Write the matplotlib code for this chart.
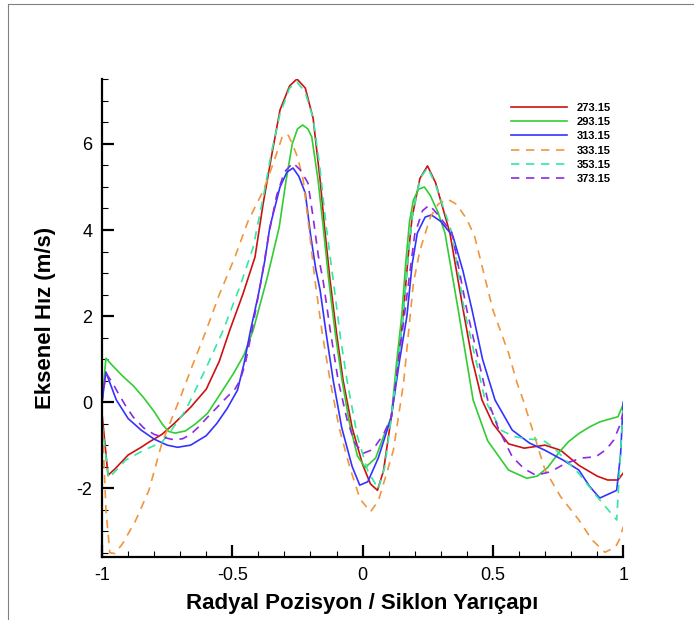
import numpy as np
import matplotlib.pyplot as plt
from matplotlib.lines import Line2D

plt.rcParams['font.family'] = ['Liberation Sans', 'DejaVu Sans']
plt.rcParams['axes.unicode_minus'] = False

# axial velocity profiles vs. normalised radial position, one per temperature
labels = ['273.15', '293.15', '313.15', '333.15', '353.15', '373.15']

x_273 = [-1.0, -0.985, -0.977, -0.95, -0.90, -0.85, -0.82, -0.77, -0.72, -0.66, -0.60, -0.55, -0.51, -0.46,
         -0.413, -0.382, -0.35, -0.317, -0.28, -0.252, -0.22, -0.19, -0.163, -0.145, -0.125, -0.10, -0.075,
         -0.04, 0.0, 0.03, 0.057, 0.08, 0.11, 0.135, 0.155, 0.175, 0.19, 0.22, 0.249, 0.28, 0.335, 0.386, 0.42,
         0.458, 0.50, 0.56, 0.62, 0.70, 0.76, 0.83, 0.90, 0.94, 0.98, 1.0]
y_273 = [-0.26, -1.2, -1.70, -1.55, -1.23, -1.05, -0.93, -0.75, -0.48, -0.12, 0.30, 0.95, 1.67, 2.50,
         3.37, 4.60, 5.70, 6.79, 7.35, 7.51, 7.30, 6.60, 5.16, 4.00, 2.84, 1.60, 0.51,
         -0.60, -1.45, -1.90, -2.05, -1.60, -0.35, 0.90, 2.00, 3.40, 4.30, 5.20, 5.49, 5.10, 3.93, 2.14, 1.00,
         0.05, -0.50, -0.97, -1.07, -1.00, -1.12, -1.47, -1.72, -1.81, -1.81, -1.65]

x_293 = [-1.0, -0.985, -0.96, -0.92, -0.88, -0.84, -0.80, -0.77, -0.745, -0.72, -0.68, -0.64, -0.595,
         -0.545, -0.495, -0.455, -0.42, -0.37,
         -0.35, -0.32, -0.295, -0.27, -0.25, -0.23, -0.21, -0.195, -0.171, -0.15, -0.13, -0.105, -0.079,
         -0.05, -0.02, 0.01, 0.05, 0.08, 0.11, 0.13, 0.15, 0.165, 0.18, 0.195, 0.215, 0.237, 0.26, 0.29,
         0.316, 0.367, 0.424, 0.48, 0.56, 0.63, 0.67, 0.71, 0.755, 0.79, 0.83, 0.87, 0.91, 0.95, 0.98, 1.0]
y_293 = [0.0, 1.02, 0.85, 0.60, 0.38, 0.10, -0.22, -0.50, -0.68, -0.72, -0.67, -0.50, -0.26,
         0.20, 0.67, 1.10, 1.67, 2.80,
         3.30, 4.07, 5.10, 6.00, 6.35, 6.44, 6.35, 6.16, 5.16, 4.00, 2.84, 1.60, 0.51,
         -0.50, -1.25, -1.52, -1.30, -0.80, -0.35, 0.90, 2.00, 3.20, 4.20, 4.70, 4.95, 5.00, 4.80, 4.40,
         3.93, 2.14, 0.05, -0.90, -1.58, -1.77, -1.72, -1.52, -1.16, -0.92, -0.73, -0.58, -0.46, -0.39, -0.34, -0.05]

x_313 = [-1.0, -0.985, -0.97, -0.945, -0.90, -0.85, -0.80, -0.75, -0.71, -0.66, -0.60, -0.56, -0.52,
         -0.48, -0.455, -0.43, -0.40,
         -0.375, -0.356, -0.317, -0.29, -0.267, -0.245, -0.22, -0.20, -0.18, -0.163, -0.14, -0.113,
         -0.08, -0.04, -0.011, 0.02, 0.06, 0.11, 0.14, 0.17, 0.19, 0.21, 0.24, 0.264, 0.30, 0.347, 0.385,
         0.42, 0.46, 0.508, 0.574, 0.64, 0.70, 0.77, 0.83, 0.87, 0.91, 0.95, 0.975, 0.99, 1.0]
y_313 = [0.0, 0.70, 0.45, 0.05, -0.38, -0.65, -0.86, -1.00, -1.05, -1.00, -0.78, -0.50, -0.15,
         0.28, 0.90, 1.67, 2.50,
         3.30, 4.07, 5.00, 5.35, 5.44, 5.25, 4.86, 3.90, 3.10, 2.60, 1.60, 0.51,
         -0.60, -1.50, -1.93, -1.85, -1.30, -0.35, 0.90, 2.00, 3.20, 3.93, 4.30, 4.35, 4.20, 3.85, 3.05,
         2.14, 1.00, 0.05, -0.65, -0.95, -1.12, -1.35, -1.58, -1.95, -2.23, -2.12, -2.05, -1.20, 0.0]

x_333 = [-1.0, -0.985, -0.97, -0.95, -0.92, -0.87, -0.82, -0.77, -0.75, -0.70, -0.65, -0.60, -0.55,
         -0.49, -0.44, -0.38, -0.34, -0.306, -0.285, -0.27, -0.25, -0.228, -0.205, -0.183, -0.155,
         -0.125, -0.09, -0.05, -0.01, 0.03, 0.06, 0.09, 0.118, 0.157, 0.195, 0.22, 0.26, 0.29, 0.325,
         0.36, 0.40, 0.43, 0.50, 0.56, 0.593, 0.616, 0.66, 0.70, 0.76, 0.83, 0.88, 0.93, 0.97, 0.985, 1.0]
y_333 = [-0.30, -2.50, -3.50, -3.52, -3.28, -2.74, -2.05, -0.95, -0.65, 0.10, 0.90, 1.67, 2.50,
         3.37, 4.20, 4.93, 5.60, 6.21, 6.20, 6.00, 5.70, 5.16, 4.00, 2.84, 1.60,
         0.51, -0.60, -1.50, -2.25, -2.55, -2.30, -1.70, -1.12, 0.44, 2.77, 3.53, 4.30, 4.60, 4.72,
         4.60, 4.25, 3.85, 2.14, 1.14, 0.44, 0.05, -0.80, -1.58, -2.20, -2.74, -3.20, -3.49, -3.37, -3.20, -2.90]

x_353 = [-1.0, -0.975, -0.94, -0.91, -0.84, -0.77, -0.74, -0.68, -0.60, -0.535, -0.47, -0.42, -0.38,
         -0.35, -0.317, -0.28, -0.252, -0.22, -0.19, -0.165, -0.14, -0.113, -0.085, -0.06, -0.02, 0.02,
         0.06, 0.085, 0.11, 0.135, 0.155, 0.175, 0.19, 0.22, 0.25, 0.28, 0.343, 0.39, 0.47, 0.53, 0.58, 0.64,
         0.69, 0.73, 0.78, 0.83, 0.90, 0.975, 1.0]
y_353 = [-0.50, -1.77, -1.55, -1.35, -1.12, -0.93, -0.70, -0.20, 0.80, 1.67, 2.70, 3.60, 4.80,
         5.80, 6.70, 7.30, 7.44, 7.20, 6.60, 5.50, 4.10, 2.84, 1.50, 0.51, -0.80, -1.60,
         -2.02, -1.50, -0.35, 0.90, 2.00, 3.40, 4.30, 5.20, 5.45, 5.05, 3.93, 2.14, 0.05, -0.65, -0.80, -0.86,
         -0.88, -1.04, -1.35, -1.66, -2.20, -2.74, -0.10]

x_373 = [-1.0, -0.985, -0.96, -0.94, -0.91, -0.88, -0.84, -0.80, -0.75, -0.72, -0.69, -0.66, -0.63,
         -0.595, -0.555, -0.52, -0.49, -0.47, -0.45, -0.43, -0.39,
         -0.36, -0.33, -0.30, -0.267, -0.24, -0.21, -0.19, -0.17, -0.152, -0.125, -0.094, -0.06, -0.03,
         0.002, 0.04, 0.08, 0.11, 0.13, 0.16, 0.20, 0.23, 0.256, 0.29, 0.343, 0.40, 0.48, 0.52, 0.574,
         0.62, 0.665, 0.72, 0.78, 0.84, 0.895, 0.935, 0.964, 0.985, 1.0]
y_373 = [0.0, 0.68, 0.45, 0.23, -0.08, -0.35, -0.60, -0.75, -0.84, -0.88, -0.85, -0.75, -0.58,
         -0.35, -0.10, 0.12, 0.30, 0.51, 0.90, 1.50, 2.80,
         3.90, 4.80, 5.35, 5.56, 5.40, 5.10, 4.30, 3.40, 2.84, 1.70, 0.51, -0.40, -0.95,
         -1.19, -1.10, -0.75, -0.35, 0.60, 2.00, 3.90, 4.45, 4.58, 4.35, 3.93, 2.14, 0.05, -0.60, -1.27,
         -1.55, -1.70, -1.62, -1.42, -1.30, -1.27, -1.10, -0.88, -0.57, -0.25]

xs = [x_273, x_293, x_313, x_333, x_353, x_373]
ys = [y_273, y_293, y_313, y_333, y_353, y_373]
colors = ['#cc1111', '#33cc33', '#3333ff', '#f0963c', '#33e8a0', '#8a2be2']
styles = ['-', '-', '-', '--', '--', '--']

fig = plt.figure(figsize=(6.94, 6.2), dpi=100)
ax = fig.add_axes([0.147, 0.1016, 0.751, 0.771])

for x, y, c, ls, lab in zip(xs, ys, colors, styles, labels):
    line, = ax.plot(x, y, color=c, ls=ls, lw=1.2, label=lab)
    if ls == '--':
        line.set_dashes((5, 4))

ax.set_xlim(-1, 1)
ax.set_ylim(-3.6, 7.51)
ax.set_xticks([-1, -0.5, 0, 0.5, 1])
ax.set_xticklabels(['-1', '-0.5', '0', '0.5', '1'])
ax.set_xticks(np.arange(-1, 1.01, 0.1), minor=True)
ax.set_yticks([-2, 0, 2, 4, 6])
ax.set_yticks(np.arange(-3.5, 7.6, 0.5), minor=True)

for s in ['top', 'right']:
    ax.spines[s].set_visible(False)
for s in ['left', 'bottom']:
    ax.spines[s].set_linewidth(1.6)

ax.tick_params(which='major', direction='in', length=8.5, width=1.6, labelsize=13, pad=7)
ax.tick_params(which='minor', direction='in', length=4.5, width=0.8)

ax.set_xlabel('Radyal Pozisyon / Siklon Yarıçapı', fontsize=16, fontweight='bold', labelpad=7)
ax.set_ylabel('Eksenel Hız (m/s)', fontsize=16, fontweight='bold', labelpad=15)

leg = ax.legend(loc='upper left', bbox_to_anchor=(0.766, 0.971), frameon=False,
                prop={'size': 8, 'weight': 'bold'}, handlelength=5.0,
                labelspacing=0.38, handletextpad=0.9)

# thin page border along the top and left edges
fig.add_artist(Line2D([8 / 694, 1], [1 - 4 / 620, 1 - 4 / 620], color='#808080', lw=0.8))
fig.add_artist(Line2D([8 / 694, 8 / 694], [0, 1 - 4 / 620], color='#808080', lw=0.8))

fig.savefig('out.png', dpi=100)
